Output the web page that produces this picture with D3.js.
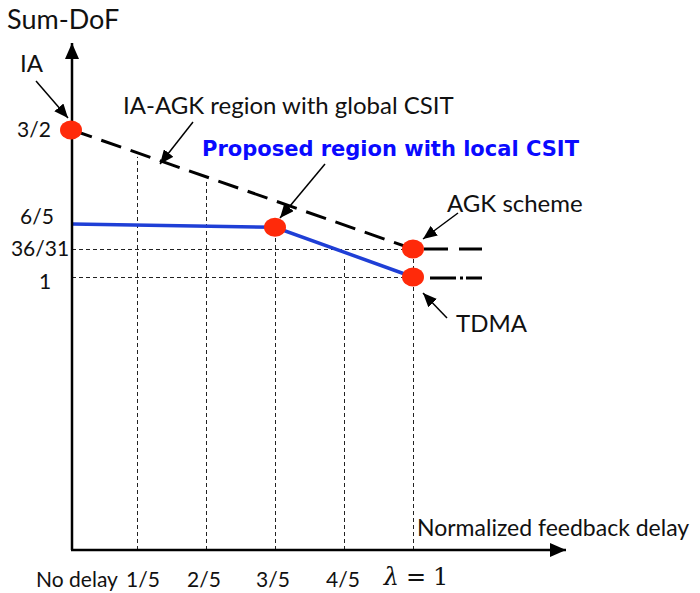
<!DOCTYPE html>
<html>
<head>
<meta charset="utf-8">
<script src="https://cdn.jsdelivr.net/npm/d3@7"></script>
<style>
  body { margin: 0; background: #fff; }
  svg { display: block; }
  text { font-family: Lato, "Noto Sans", sans-serif; fill: #111; }
</style>
</head>
<body>
<svg id="chart" width="700" height="593"></svg>
<script>
// x positions (normalized feedback delay) and their tick labels
var xTicks = [0, 0.2, 0.4, 0.6, 0.8, 1];
var xTickLabels = ["No delay", "1/5", "2/5", "3/5", "4/5", "λ"];
// y tick values and labels (sketch is not to scale, so scale is piecewise)
var yTicks = [1.5, 1.2, 36 / 31, 1];
var yTickLabels = ["3/2", "6/5", "36/31", "1"];

// IA-AGK region with global CSIT (dashed black)
var globalX = [0, 1];
var globalY = [1.5, 36 / 31];
// proposed region with local CSIT (blue)
var localX = [0, 0.6, 1];
var localY = [1.2, 1.195, 1];
// which curve caps each vertical grid line
var gridCap = ["global", "global", "local", "local", "global"];
// red markers
var dotX = [0, 0.6, 1, 1];
var dotY = [1.5, 1.195, 36 / 31, 1];

var svg = d3.select("#chart");
var axisX0 = 72, axisY0 = 550;

var x = d3.scaleLinear().domain([0, 1]).range([68, 413]);
var y = d3.scaleLinear()
  .domain([0, 1, 36 / 31, 1.2, 1.5])
  .range([axisY0, 277, 249, 224, 130]);

function px(d) { return d === 0 ? axisX0 : x(d); }

function curvePts(xs, ys) {
  return xs.map(function(v, i) { return [px(v), y(ys[i])]; });
}
var globalPts = curvePts(globalX, globalY);
var localPts = curvePts(localX, localY);

function yOnCurve(pts, xp) {
  for (var i = 0; i < pts.length - 1; i++) {
    if (xp >= pts[i][0] && xp <= pts[i + 1][0]) {
      var t = (xp - pts[i][0]) / (pts[i + 1][0] - pts[i][0]);
      return pts[i][1] + t * (pts[i + 1][1] - pts[i][1]);
    }
  }
  return pts[pts.length - 1][1];
}

var defs = svg.append("defs");
function arrowMarker(id, w, h) {
  defs.append("marker")
    .attr("id", id)
    .attr("viewBox", "0 0 " + w + " " + h)
    .attr("refX", w).attr("refY", h / 2)
    .attr("markerWidth", w).attr("markerHeight", h)
    .attr("markerUnits", "userSpaceOnUse")
    .attr("orient", "auto")
    .append("path")
    .attr("d", "M0,0L" + w + "," + (h / 2) + "L0," + h + "Z")
    .attr("fill", "#000");
}
arrowMarker("axisHead", 16, 14);
arrowMarker("noteHead", 14, 12);

/* grid lines */
var grid = svg.append("g")
  .attr("stroke", "#222").attr("stroke-width", 1)
  .attr("stroke-dasharray", "4,3").attr("fill", "none");

xTicks.slice(1).forEach(function(v, i) {
  var xp = Math.round(x(v)) + 0.5;
  var pts = gridCap[i] === "global" ? globalPts : localPts;
  grid.append("line")
    .attr("x1", xp).attr("x2", xp)
    .attr("y1", axisY0).attr("y2", yOnCurve(pts, xp) + 4);
});
[36 / 31, 1].forEach(function(v) {
  var yp = Math.round(y(v)) + 0.5;
  grid.append("line")
    .attr("x1", axisX0).attr("x2", x(1))
    .attr("y1", yp).attr("y2", yp);
});

/* curves */
var line = d3.line();
svg.append("path")
  .attr("d", line(globalPts))
  .attr("fill", "none").attr("stroke", "#000")
  .attr("stroke-width", 3).attr("stroke-dasharray", "21,10");

svg.append("path")
  .attr("d", line(localPts))
  .attr("fill", "none").attr("stroke", "#1f3fd6")
  .attr("stroke-width", 3.5);

// flat continuation past lambda = 1
svg.append("line")
  .attr("x1", x(1)).attr("x2", x(1) + 69)
  .attr("y1", y(36 / 31)).attr("y2", y(36 / 31))
  .attr("stroke", "#000").attr("stroke-width", 3)
  .attr("stroke-dasharray", "0,11,24,11,23");
svg.append("line")
  .attr("x1", x(1)).attr("x2", x(1) + 69)
  .attr("y1", y(1) + 1).attr("y2", y(1) + 1)
  .attr("stroke", "#000").attr("stroke-width", 3)
  .attr("stroke-dasharray", "0,17,26,4,3,3,16");

/* axes */
svg.append("line")
  .attr("x1", axisX0).attr("y1", axisY0)
  .attr("x2", axisX0).attr("y2", 43)
  .attr("stroke", "#000").attr("stroke-width", 2.5)
  .attr("marker-end", "url(#axisHead)");
svg.append("line")
  .attr("x1", axisX0 - 1).attr("y1", axisY0)
  .attr("x2", 566).attr("y2", axisY0)
  .attr("stroke", "#000").attr("stroke-width", 2.5)
  .attr("marker-end", "url(#axisHead)");

/* dots */
svg.selectAll("ellipse.dot")
  .data(dotX.map(function(v, i) { return [v, dotY[i]]; }))
  .enter().append("ellipse")
  .attr("class", "dot")
  .attr("cx", function(d) { return px(d[0]) - (d[0] === 0 ? 1 : 0); })
  .attr("cy", function(d) { return y(d[1]); })
  .attr("rx", 11).attr("ry", 9.5)
  .attr("fill", "#ff2a0a");

/* tick labels */
var yLabelX = [34, 37, 40, 45];
var yLabelDy = [-2, -9, -2, 3];
svg.selectAll("text.ytick")
  .data(yTicks)
  .enter().append("text")
  .attr("class", "ytick")
  .attr("x", function(d, i) { return yLabelX[i]; })
  .attr("y", function(d, i) { return y(d) + yLabelDy[i]; })
  .attr("text-anchor", "middle")
  .attr("dominant-baseline", "central")
  .attr("font-size", 21)
  .text(function(d, i) { return yTickLabels[i]; });

var xLabelX = [77, 143, 204, 273, 343];
svg.selectAll("text.xtick")
  .data(xTicks.slice(0, 5))
  .enter().append("text")
  .attr("class", "xtick")
  .attr("x", function(d, i) { return xLabelX[i]; })
  .attr("y", 578)
  .attr("text-anchor", "middle")
  .attr("dominant-baseline", "central")
  .attr("font-size", 21)
  .text(function(d, i) { return xTickLabels[i]; });

var lam = svg.append("text")
  .attr("x", x(1) + 3).attr("y", 577)
  .attr("text-anchor", "middle")
  .attr("dominant-baseline", "central")
  .style("font-family", "'DejaVu Serif', 'Liberation Serif', serif")
  .attr("font-size", 24);
lam.append("tspan").attr("font-style", "italic").text(xTickLabels[5]);
lam.append("tspan").attr("dx", 7).text("=");
lam.append("tspan").attr("dx", 7).text("1");

/* titles */
svg.append("text").attr("x", 7).attr("y", 18)
  .attr("dominant-baseline", "central").attr("font-size", 27)
  .text("Sum-DoF");
svg.append("text").attr("x", 417).attr("y", 527)
  .attr("dominant-baseline", "central").attr("font-size", 23)
  .text("Normalized feedback delay");

/* annotations */
var notes = [
  { text: "IA", x: 20, y: 62 },
  { text: "IA-AGK region with global CSIT", x: 123, y: 104 },
  { text: "AGK scheme", x: 447, y: 202 },
  { text: "TDMA", x: 456, y: 322 }
];
svg.selectAll("text.note")
  .data(notes)
  .enter().append("text")
  .attr("class", "note")
  .attr("x", function(d) { return d.x; })
  .attr("y", function(d) { return d.y; })
  .attr("dominant-baseline", "central")
  .attr("font-size", 24)
  .text(function(d) { return d.text; });

svg.append("text")
  .attr("x", 202).attr("y", 149)
  .attr("dominant-baseline", "central")
  .attr("font-size", 21).attr("font-weight", "bold")
  .style("font-family", "'DejaVu Sans', sans-serif")
  .style("fill", "#0a0aff")
  .text("Proposed region with local CSIT");

var arrows = [
  [36, 81, 68, 118],
  [193, 122, 160, 164],
  [325, 164, 280, 218],
  [458, 213, 423, 239],
  [447, 318, 423, 293]
];
svg.selectAll("line.note")
  .data(arrows)
  .enter().append("line")
  .attr("class", "note")
  .attr("x1", function(d) { return d[0]; })
  .attr("y1", function(d) { return d[1]; })
  .attr("x2", function(d) { return d[2]; })
  .attr("y2", function(d) { return d[3]; })
  .attr("stroke", "#000").attr("stroke-width", 1.5)
  .attr("marker-end", "url(#noteHead)");
</script>
</body>
</html>
